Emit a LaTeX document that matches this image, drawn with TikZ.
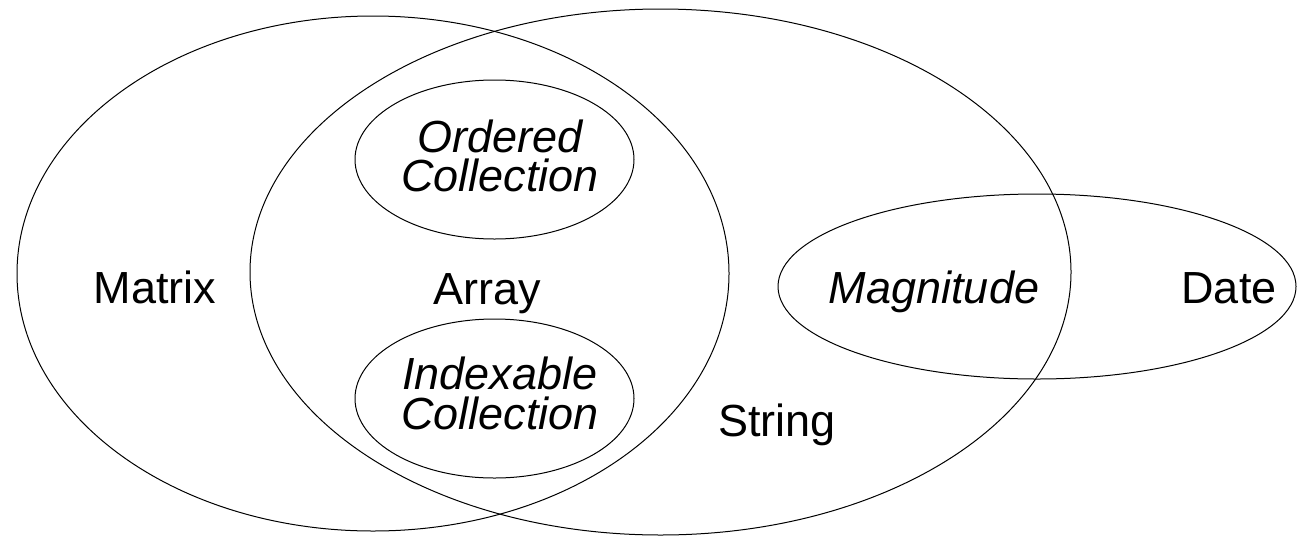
\documentclass[tikz,border=0pt]{standalone}
\usepackage{fontspec}
\setmainfont{Liberation Sans}
\begin{document}
\begin{tikzpicture}[x=1pt, y=-1pt,
  set/.style={draw=black, line width=1pt},
  lbl/.style={inner sep=0pt, font=\fontsize{45}{39.5}\selectfont},
  ilbl/.style={inner sep=0pt, align=center, font=\fontsize{45}{39.5}\selectfont\itshape}]
\useasboundingbox (0,0) rectangle (1297,536);

% centres of the sets
\coordinate (matrixC)    at (373,273.5);
\coordinate (stringC)    at (660.5,272);
\coordinate (orderedC)   at (494.5,159.5);
\coordinate (indexableC) at (494.5,398.5);
\coordinate (magnitudeC) at (1037,286.5);

% the sets
\draw[set] (matrixC)    ellipse [x radius=356pt,   y radius=257.5pt];
\draw[set] (stringC)    ellipse [x radius=410.5pt, y radius=263pt];
\draw[set] (orderedC)   ellipse [x radius=139.5pt, y radius=79.5pt];
\draw[set] (indexableC) ellipse [x radius=139.5pt, y radius=79.5pt];
\draw[set] (magnitudeC) ellipse [x radius=259pt,   y radius=92.5pt];

% class names
\node[lbl, anchor=base] (matrix)    at (155,303) {Matrix};
\node[lbl, anchor=base] (array)     at (487,304) {Array};
\node[lbl, anchor=base] (string)    at (777,436) {String};
\node[lbl, anchor=base] (date)      at (1229,303) {Date};
\node[ilbl, anchor=base] (magnitude) at (934,303) {Magnitude};
\node[ilbl] (ordered)   at (500,156)   {Ordered\\Collection};
\node[ilbl] (indexable) at (500,393.5) {Indexable\\Collection};
\end{tikzpicture}
\end{document}
